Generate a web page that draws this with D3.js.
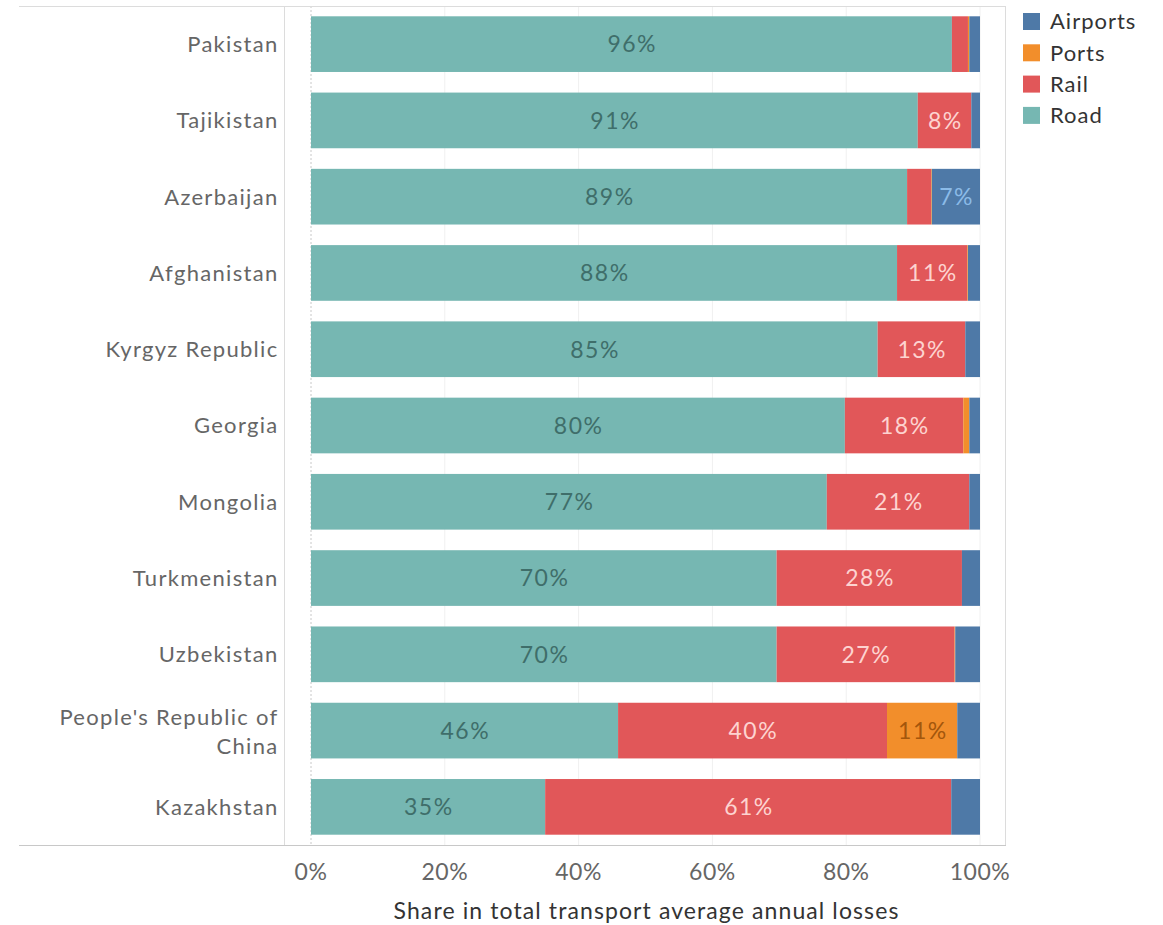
<!DOCTYPE html>
<html lang="en">
<head>
    <meta charset="UTF-8">
    <title>Share in total transport average annual losses</title>
    <script src="https://cdnjs.cloudflare.com/ajax/libs/d3/7.8.5/d3.min.js"></script>
    <style>
        body { margin: 0; background: #fff; }
        svg text { font-family: "Lato", "Open Sans", sans-serif; }
    </style>
</head>
<body>
    <div id="chart"></div>

    <script>
        // Data (share in %, per mode)
        const countries = ["Pakistan", "Tajikistan", "Azerbaijan", "Afghanistan", "Kyrgyz Republic",
            "Georgia", "Mongolia", "Turkmenistan", "Uzbekistan", "People's Republic of China", "Kazakhstan"];
        const modes = ["Road", "Rail", "Ports", "Airports"];
        const road     = [95.8, 90.7, 89.1, 87.6, 84.7, 79.8, 77.1, 69.6, 69.6, 45.9, 35.0];
        const rail     = [2.4, 8.0, 3.6, 10.5, 13.1, 17.7, 21.3, 27.7, 26.6, 40.2, 60.7];
        const ports    = [0.2, 0.0, 0.1, 0.1, 0.0, 0.9, 0.0, 0.0, 0.1, 10.5, 0.0];
        const airports = [1.6, 1.3, 7.2, 1.8, 2.2, 1.6, 1.6, 2.7, 3.7, 3.4, 4.3];
        const xTicks = [0, 20, 40, 60, 80, 100];
        const legendOrder = ["Airports", "Ports", "Rail", "Road"];

        const colors = { Road: "#76b7b2", Rail: "#e15759", Ports: "#f28e2b", Airports: "#4e79a7" };
        const labelColors = { Road: "#3f6e6a", Rail: "#fdd3d0", Ports: "#a3560c", Airports: "#8bbbe8" };

        const width = 1163, height = 925;
        const paneLeft = 284, paneRight = 1005, paneTop = 6, paneBottom = 845;

        const svg = d3.select("#chart").append("svg")
            .attr("width", width)
            .attr("height", height);

        const x = d3.scaleLinear().domain([0, 100]).range([311, 980]);
        const y = d3.scaleBand().domain(countries)
            .range([paneTop, paneBottom])
            .paddingInner(0.27)
            .paddingOuter(0.135);

        // stack the series
        const rows = countries.map((c, i) => ({
            country: c, Road: road[i], Rail: rail[i], Ports: ports[i], Airports: airports[i]
        }));
        const series = d3.stack().keys(modes)(rows);

        // gridlines
        svg.append("g").selectAll("line")
            .data(xTicks)
            .enter().append("line")
            .attr("x1", d => x(d)).attr("x2", d => x(d))
            .attr("y1", paneTop).attr("y2", paneBottom)
            .attr("stroke", d => d === 0 ? "#c8c8c8" : "#f0f0f0")
            .attr("stroke-dasharray", d => d === 0 ? "2,2" : null)
            .attr("stroke-width", 1);

        // frame
        const frame = svg.append("g").attr("stroke-width", 1).attr("fill", "none");
        frame.append("line").attr("x1", 19).attr("x2", paneRight).attr("y1", paneTop + 0.5).attr("y2", paneTop + 0.5).attr("stroke", "#dcdcdc");
        frame.append("line").attr("x1", paneRight + 0.5).attr("x2", paneRight + 0.5).attr("y1", paneTop).attr("y2", paneBottom).attr("stroke", "#dcdcdc");
        frame.append("line").attr("x1", paneLeft + 0.5).attr("x2", paneLeft + 0.5).attr("y1", paneTop).attr("y2", paneBottom).attr("stroke", "#dcdcdc");
        frame.append("line").attr("x1", 19).attr("x2", paneRight + 1).attr("y1", paneBottom + 0.5).attr("y2", paneBottom + 0.5).attr("stroke", "#c8c8c8");

        // bars
        const layers = svg.append("g").selectAll("g")
            .data(series)
            .enter().append("g")
            .attr("fill", d => colors[d.key]);

        layers.selectAll("rect")
            .data(d => d.map(p => ({ key: d.key, p: p })))
            .enter().append("rect")
            .attr("x", d => x(d.p[0]))
            .attr("y", d => y(d.p.data.country))
            .attr("width", d => Math.max(0, x(d.p[1]) - x(d.p[0])))
            .attr("height", y.bandwidth());

        // value labels
        const labels = [];
        series.forEach(s => s.forEach(p => {
            const v = p[1] - p[0];
            if (v >= 5) labels.push({ key: s.key, p: p, v: v });
        }));
        svg.append("g").selectAll("text")
            .data(labels)
            .enter().append("text")
            .attr("x", d => (x(d.p[0]) + x(d.p[1])) / 2 + 0.75)
            .attr("y", d => y(d.p.data.country) + y.bandwidth() / 2)
            .attr("dy", "0.36em")
            .attr("text-anchor", "middle")
            .attr("font-size", 23)
            .attr("letter-spacing", "1.5px")
            .attr("fill", d => labelColors[d.key])
            .text(d => Math.round(d.v) + "%");

        // country labels
        const labelX = 278.5;
        const yLabels = svg.append("g").selectAll("text")
            .data(countries)
            .enter().append("text")
            .attr("x", labelX)
            .attr("y", d => y(d) + y.bandwidth() / 2)
            .attr("text-anchor", "end")
            .attr("font-size", 22)
            .attr("letter-spacing", "1.3px")
            .attr("fill", "#666");
        yLabels.each(function(d) {
            const t = d3.select(this);
            if (d === "People's Republic of China") {
                t.append("tspan").attr("x", labelX).attr("dy", "-0.25em").text("People's Republic of");
                t.append("tspan").attr("x", labelX).attr("dy", "1.33em").text("China");
            } else {
                t.attr("dy", "0.36em").text(d);
            }
        });

        // x axis
        svg.append("g").selectAll("text")
            .data(xTicks)
            .enter().append("text")
            .attr("x", d => x(d))
            .attr("y", 872)
            .attr("dy", "0.36em")
            .attr("text-anchor", "middle")
            .attr("font-size", 23)
            .attr("letter-spacing", "0.5px")
            .attr("fill", "#666")
            .text(d => d + "%");

        svg.append("text")
            .attr("x", x(50) + 1)
            .attr("y", 911)
            .attr("dy", "0.36em")
            .attr("text-anchor", "middle")
            .attr("font-size", 23)
            .attr("letter-spacing", "1.1px")
            .attr("fill", "#333")
            .text("Share in total transport average annual losses");

        // legend
        const legend = svg.append("g").selectAll("g")
            .data(legendOrder)
            .enter().append("g")
            .attr("transform", (d, i) => `translate(1023, ${13 + i * 31.3})`);
        legend.append("rect")
            .attr("width", 17).attr("height", 17)
            .attr("fill", d => colors[d]);
        legend.append("text")
            .attr("x", 27).attr("y", 8.5)
            .attr("dy", "0.36em")
            .attr("font-size", 22)
            .attr("letter-spacing", "1px")
            .attr("fill", "#333")
            .text(d => d);
    </script>
</body>
</html>
